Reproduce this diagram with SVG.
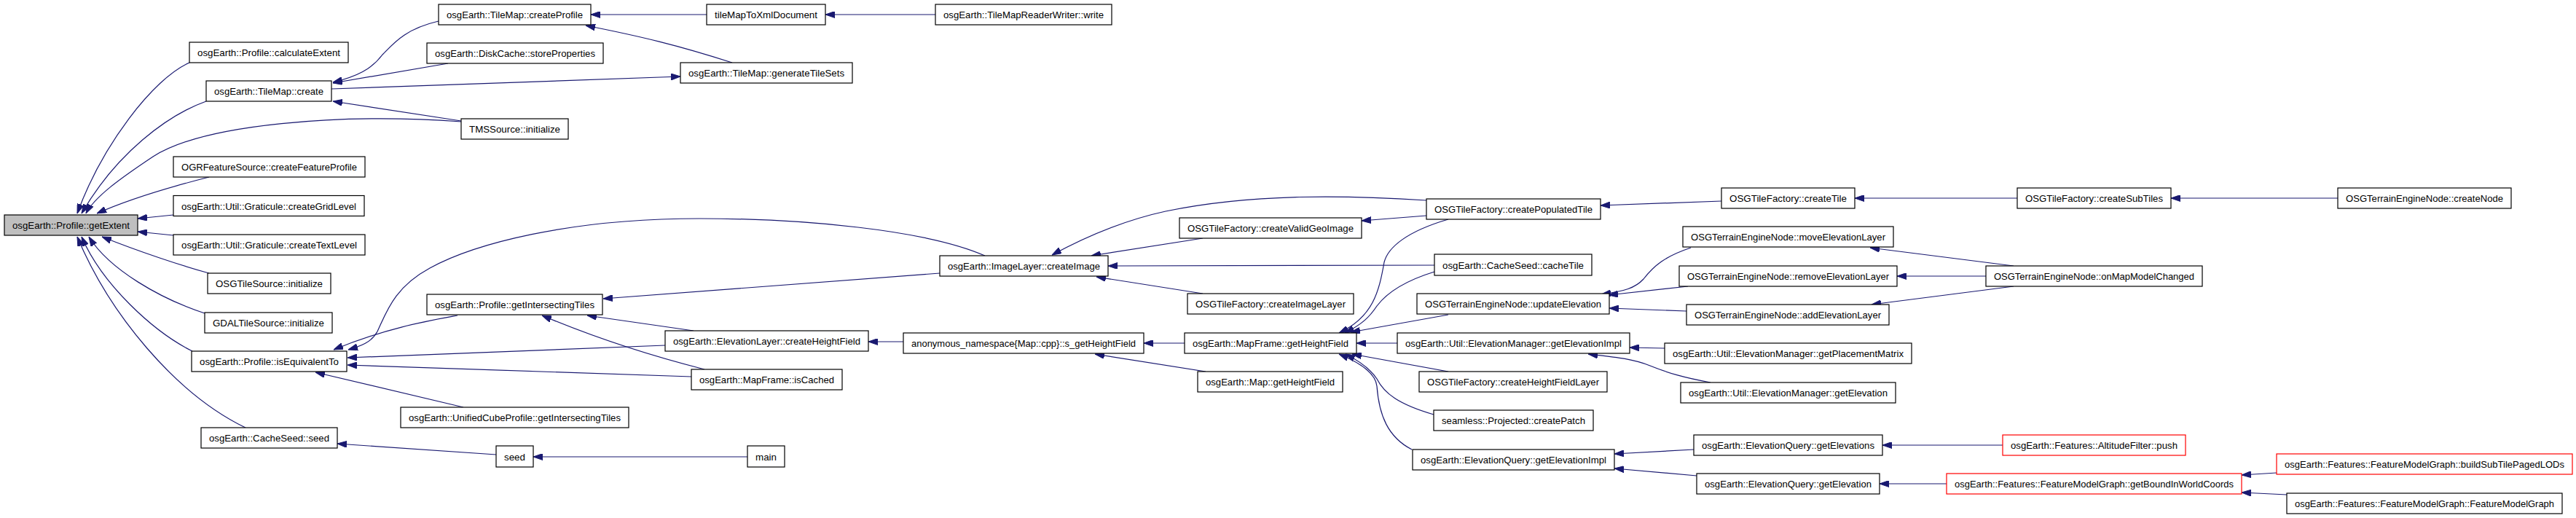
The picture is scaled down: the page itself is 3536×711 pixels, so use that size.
<svg xmlns="http://www.w3.org/2000/svg" width="3536" height="711" viewBox="0 0 3536 711">
<style>
.node rect{fill:#ffffff;stroke:#000000;stroke-width:1.2}
.node.root rect{fill:#bfbfbf}
.node.red rect{stroke:#ff0000}
.node text{font-family:"Liberation Sans",Arial,sans-serif;font-size:13.5px;fill:#000000;text-anchor:middle}
.edges path{fill:none;stroke:#191970;stroke-width:1.2;marker-end:url(#ah)}
</style>
<defs>
<marker id="ah" viewBox="0 0 13 9" refX="13" refY="4.5" markerWidth="13" markerHeight="9" markerUnits="userSpaceOnUse" orient="auto">
<path d="M0,0 L13,4.5 L0,9 z" fill="#191970" stroke="#191970" stroke-width="1"/>
</marker>
</defs>
<rect width="3536" height="711" fill="#ffffff"/>
<g id="edges" class="edges">
<path d="M260,86 C210,108 140,200 106,293"/>
<path d="M283,139 C230,158 160,210 112,293"/>
<path d="M633,167 C470,155 280,170 210,215 C165,245 130,270 118,293"/>
<path d="M287,243 C240,255 180,272 133,293"/>
<path d="M238,295 L189,300"/>
<path d="M238,323 L189,318"/>
<path d="M287,375 C250,365 190,345 140,325"/>
<path d="M281,430 C220,410 150,370 122,325"/>
<path d="M264,482 C210,455 140,390 112,325"/>
<path d="M337,587 C240,540 150,430 106,325"/>
<path d="M602,29 C555,40 540,60 525,75 C510,95 490,105 457,113"/>
<path d="M615,87 L457,114"/>
<path d="M633,166 L457,139"/>
<path d="M455,122 L934,105"/>
<path d="M1005,86 C930,62 880,50 804,35"/>
<path d="M970,20 L811,20"/>
<path d="M1284,20 L1133,20"/>
<path d="M1352,351 C1270,315 1100,300 960,300 C780,300 650,335 590,368 C540,395 530,430 518,455 C510,470 495,475 478,480"/>
<path d="M628,433 C590,440 530,450 458,480"/>
<path d="M913,474 L477,491"/>
<path d="M949,517 L477,501"/>
<path d="M636,559 L433,511"/>
<path d="M1290,375 L828,410"/>
<path d="M952,454 L806,433"/>
<path d="M967,507 C900,490 820,465 744,433"/>
<path d="M1240,469 L1192,469"/>
<path d="M681,624 L463,609"/>
<path d="M1026,627 L732,627"/>
<path d="M1958,275 C1850,268 1720,265 1600,290 C1540,303 1490,325 1444,350"/>
<path d="M1651,327 L1498,351"/>
<path d="M1969,364 L1521,365"/>
<path d="M1651,403 L1505,380"/>
<path d="M1958,296 L1869,303"/>
<path d="M1626,471 L1570,471"/>
<path d="M1655,510 L1503,486"/>
<path d="M1988,301 C1930,318 1905,340 1900,360 C1893,400 1885,435 1838,457"/>
<path d="M1969,373 C1930,385 1905,400 1890,420 C1880,435 1870,445 1846,457"/>
<path d="M1988,432 L1854,456"/>
<path d="M1918,471 L1862,471"/>
<path d="M1988,510 L1856,486"/>
<path d="M1968,569 C1920,555 1900,540 1890,520 C1880,505 1865,495 1847,486"/>
<path d="M1938,617 C1905,600 1893,570 1890,530 C1888,510 1860,495 1838,486"/>
<path d="M2363,276 L2197,282"/>
<path d="M2769,272 L2546,272"/>
<path d="M3209,272 L2980,272"/>
<path d="M2321,340 C2285,352 2270,365 2256,383 C2245,395 2230,400 2198,404"/>
<path d="M2317,393 L2208,405"/>
<path d="M2315,427 L2209,423"/>
<path d="M2764,365 L2567,340"/>
<path d="M2726,379 L2604,379"/>
<path d="M2764,393 L2569,418"/>
<path d="M2285,478 L2237,477"/>
<path d="M2348,525 C2310,518 2290,512 2265,502 C2240,492 2215,490 2180,486"/>
<path d="M2325,617 L2216,623"/>
<path d="M2329,653 L2216,643"/>
<path d="M2749,611 L2584,611"/>
<path d="M2672,664 L2580,664"/>
<path d="M3125,649 L3077,652"/>
<path d="M3139,679 L3077,676"/>
</g>
<g id="n0" class="node root"><rect x="6" y="295" width="183" height="28"/><text x="97.5" y="314" textLength="161" lengthAdjust="spacingAndGlyphs">osgEarth::Profile::getExtent</text></g>
<g id="n1" class="node"><rect x="260" y="58" width="218" height="28"/><text x="369" y="77" textLength="196" lengthAdjust="spacingAndGlyphs">osgEarth::Profile::calculateExtent</text></g>
<g id="n2" class="node"><rect x="283" y="111" width="172" height="28"/><text x="369" y="130" textLength="150" lengthAdjust="spacingAndGlyphs">osgEarth::TileMap::create</text></g>
<g id="n3" class="node"><rect x="602" y="6" width="209" height="28"/><text x="706.5" y="25" textLength="187" lengthAdjust="spacingAndGlyphs">osgEarth::TileMap::createProfile</text></g>
<g id="n4" class="node"><rect x="970" y="6" width="163" height="28"/><text x="1051.5" y="25" textLength="141" lengthAdjust="spacingAndGlyphs">tileMapToXmlDocument</text></g>
<g id="n5" class="node"><rect x="1284" y="6" width="242" height="28"/><text x="1405" y="25" textLength="220" lengthAdjust="spacingAndGlyphs">osgEarth::TileMapReaderWriter::write</text></g>
<g id="n6" class="node"><rect x="586" y="59" width="242" height="28"/><text x="707" y="78" textLength="220" lengthAdjust="spacingAndGlyphs">osgEarth::DiskCache::storeProperties</text></g>
<g id="n7" class="node"><rect x="934" y="86" width="236" height="28"/><text x="1052" y="105" textLength="214" lengthAdjust="spacingAndGlyphs">osgEarth::TileMap::generateTileSets</text></g>
<g id="n8" class="node"><rect x="633" y="163" width="147" height="28"/><text x="706.5" y="182" textLength="125" lengthAdjust="spacingAndGlyphs">TMSSource::initialize</text></g>
<g id="n9" class="node"><rect x="238" y="215" width="263" height="28"/><text x="369.5" y="234" textLength="241" lengthAdjust="spacingAndGlyphs">OGRFeatureSource::createFeatureProfile</text></g>
<g id="n10" class="node"><rect x="238" y="268.5" width="262" height="28"/><text x="369" y="287.5" textLength="240" lengthAdjust="spacingAndGlyphs">osgEarth::Util::Graticule::createGridLevel</text></g>
<g id="n11" class="node"><rect x="238" y="322" width="263" height="28"/><text x="369.5" y="341" textLength="241" lengthAdjust="spacingAndGlyphs">osgEarth::Util::Graticule::createTextLevel</text></g>
<g id="n12" class="node"><rect x="285" y="375" width="169" height="28"/><text x="369.5" y="394" textLength="147" lengthAdjust="spacingAndGlyphs">OSGTileSource::initialize</text></g>
<g id="n13" class="node"><rect x="281" y="429" width="175" height="28"/><text x="368.5" y="448" textLength="153" lengthAdjust="spacingAndGlyphs">GDALTileSource::initialize</text></g>
<g id="n14" class="node"><rect x="263" y="482" width="213" height="28"/><text x="369.5" y="501" textLength="191" lengthAdjust="spacingAndGlyphs">osgEarth::Profile::isEquivalentTo</text></g>
<g id="n15" class="node"><rect x="276" y="587" width="187" height="28"/><text x="369.5" y="606" textLength="165" lengthAdjust="spacingAndGlyphs">osgEarth::CacheSeed::seed</text></g>
<g id="n16" class="node"><rect x="586" y="404" width="241" height="28"/><text x="706.5" y="423" textLength="219" lengthAdjust="spacingAndGlyphs">osgEarth::Profile::getIntersectingTiles</text></g>
<g id="n17" class="node"><rect x="550" y="559" width="313" height="28"/><text x="706.5" y="578" textLength="291" lengthAdjust="spacingAndGlyphs">osgEarth::UnifiedCubeProfile::getIntersectingTiles</text></g>
<g id="n18" class="node"><rect x="913" y="454" width="279" height="28"/><text x="1052.5" y="473" textLength="257" lengthAdjust="spacingAndGlyphs">osgEarth::ElevationLayer::createHeightField</text></g>
<g id="n19" class="node"><rect x="949" y="507" width="207" height="28"/><text x="1052.5" y="526" textLength="185" lengthAdjust="spacingAndGlyphs">osgEarth::MapFrame::isCached</text></g>
<g id="n20" class="node"><rect x="681" y="612" width="51" height="29"/><text x="706.5" y="631.5" textLength="29" lengthAdjust="spacingAndGlyphs">seed</text></g>
<g id="n21" class="node"><rect x="1026" y="612" width="51" height="29"/><text x="1051.5" y="631.5" textLength="29" lengthAdjust="spacingAndGlyphs">main</text></g>
<g id="n22" class="node"><rect x="1290" y="351" width="231" height="28"/><text x="1405.5" y="370" textLength="209" lengthAdjust="spacingAndGlyphs">osgEarth::ImageLayer::createImage</text></g>
<g id="n23" class="node"><rect x="1240" y="457" width="330" height="28"/><text x="1405" y="476" textLength="308" lengthAdjust="spacingAndGlyphs">anonymous_namespace{Map::cpp}::s_getHeightField</text></g>
<g id="n24" class="node"><rect x="1619" y="299" width="250" height="28"/><text x="1744" y="318" textLength="228" lengthAdjust="spacingAndGlyphs">OSGTileFactory::createValidGeoImage</text></g>
<g id="n25" class="node"><rect x="1630" y="403" width="228" height="28"/><text x="1744" y="422" textLength="206" lengthAdjust="spacingAndGlyphs">OSGTileFactory::createImageLayer</text></g>
<g id="n26" class="node"><rect x="1626" y="457" width="236" height="28"/><text x="1744" y="476" textLength="214" lengthAdjust="spacingAndGlyphs">osgEarth::MapFrame::getHeightField</text></g>
<g id="n27" class="node"><rect x="1644" y="510" width="199" height="28"/><text x="1743.5" y="529" textLength="177" lengthAdjust="spacingAndGlyphs">osgEarth::Map::getHeightField</text></g>
<g id="n28" class="node"><rect x="1958" y="273" width="239" height="28"/><text x="2077.5" y="292" textLength="217" lengthAdjust="spacingAndGlyphs">OSGTileFactory::createPopulatedTile</text></g>
<g id="n29" class="node"><rect x="1969" y="349" width="216" height="29"/><text x="2077" y="368.5" textLength="194" lengthAdjust="spacingAndGlyphs">osgEarth::CacheSeed::cacheTile</text></g>
<g id="n30" class="node"><rect x="1945" y="403" width="264" height="28"/><text x="2077" y="422" textLength="242" lengthAdjust="spacingAndGlyphs">OSGTerrainEngineNode::updateElevation</text></g>
<g id="n31" class="node"><rect x="1918" y="457" width="319" height="28"/><text x="2077.5" y="476" textLength="297" lengthAdjust="spacingAndGlyphs">osgEarth::Util::ElevationManager::getElevationImpl</text></g>
<g id="n32" class="node"><rect x="1948" y="510" width="258" height="28"/><text x="2077" y="529" textLength="236" lengthAdjust="spacingAndGlyphs">OSGTileFactory::createHeightFieldLayer</text></g>
<g id="n33" class="node"><rect x="1968" y="563" width="219" height="28"/><text x="2077.5" y="582" textLength="197" lengthAdjust="spacingAndGlyphs">seamless::Projected::createPatch</text></g>
<g id="n34" class="node"><rect x="1939" y="617" width="277" height="28"/><text x="2077.5" y="636" textLength="255" lengthAdjust="spacingAndGlyphs">osgEarth::ElevationQuery::getElevationImpl</text></g>
<g id="n35" class="node"><rect x="2363" y="258" width="183" height="28"/><text x="2454.5" y="277" textLength="161" lengthAdjust="spacingAndGlyphs">OSGTileFactory::createTile</text></g>
<g id="n36" class="node"><rect x="2310" y="311" width="289" height="28"/><text x="2454.5" y="330" textLength="267" lengthAdjust="spacingAndGlyphs">OSGTerrainEngineNode::moveElevationLayer</text></g>
<g id="n37" class="node"><rect x="2305" y="365" width="299" height="28"/><text x="2454.5" y="384" textLength="277" lengthAdjust="spacingAndGlyphs">OSGTerrainEngineNode::removeElevationLayer</text></g>
<g id="n38" class="node"><rect x="2315" y="418" width="278" height="28"/><text x="2454" y="437" textLength="256" lengthAdjust="spacingAndGlyphs">OSGTerrainEngineNode::addElevationLayer</text></g>
<g id="n39" class="node"><rect x="2285" y="471" width="339" height="28"/><text x="2454.5" y="490" textLength="317" lengthAdjust="spacingAndGlyphs">osgEarth::Util::ElevationManager::getPlacementMatrix</text></g>
<g id="n40" class="node"><rect x="2307" y="525" width="295" height="28"/><text x="2454.5" y="544" textLength="273" lengthAdjust="spacingAndGlyphs">osgEarth::Util::ElevationManager::getElevation</text></g>
<g id="n41" class="node"><rect x="2325" y="597" width="259" height="28"/><text x="2454.5" y="616" textLength="237" lengthAdjust="spacingAndGlyphs">osgEarth::ElevationQuery::getElevations</text></g>
<g id="n42" class="node"><rect x="2329" y="650" width="251" height="28"/><text x="2454.5" y="669" textLength="229" lengthAdjust="spacingAndGlyphs">osgEarth::ElevationQuery::getElevation</text></g>
<g id="n43" class="node"><rect x="2769" y="258" width="211" height="28"/><text x="2874.5" y="277" textLength="189" lengthAdjust="spacingAndGlyphs">OSGTileFactory::createSubTiles</text></g>
<g id="n44" class="node"><rect x="2726" y="365" width="297" height="28"/><text x="2874.5" y="384" textLength="275" lengthAdjust="spacingAndGlyphs">OSGTerrainEngineNode::onMapModelChanged</text></g>
<g id="n45" class="node red"><rect x="2749" y="597" width="251" height="28"/><text x="2874.5" y="616" textLength="229" lengthAdjust="spacingAndGlyphs">osgEarth::Features::AltitudeFilter::push</text></g>
<g id="n46" class="node red"><rect x="2672" y="650" width="405" height="28"/><text x="2874.5" y="669" textLength="383" lengthAdjust="spacingAndGlyphs">osgEarth::Features::FeatureModelGraph::getBoundInWorldCoords</text></g>
<g id="n47" class="node"><rect x="3209" y="258" width="238" height="28"/><text x="3328" y="277" textLength="216" lengthAdjust="spacingAndGlyphs">OSGTerrainEngineNode::createNode</text></g>
<g id="n48" class="node red"><rect x="3125" y="623" width="406" height="28"/><text x="3328" y="642" textLength="384" lengthAdjust="spacingAndGlyphs">osgEarth::Features::FeatureModelGraph::buildSubTilePagedLODs</text></g>
<g id="n49" class="node"><rect x="3139" y="677" width="378" height="28"/><text x="3328" y="696" textLength="356" lengthAdjust="spacingAndGlyphs">osgEarth::Features::FeatureModelGraph::FeatureModelGraph</text></g>
</svg>
